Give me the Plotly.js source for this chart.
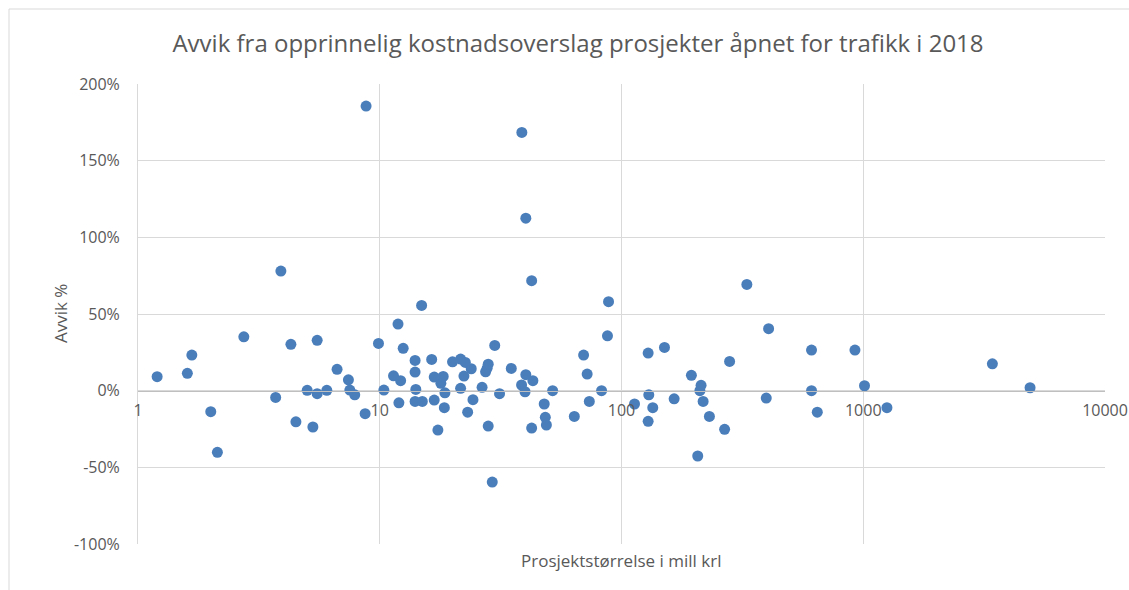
<!DOCTYPE html>
<html>
<head>
<meta charset="utf-8">
<script src="https://cdn.plot.ly/plotly-3.0.1.min.js"></script>
<style>html,body{margin:0;padding:0;background:#fff;}#chart{width:1129px;height:590px;}</style>
</head>
<body>
<div id="chart"></div>
<script>
// Project size (mill kr) and deviation (%)
const prosjektstorrelse = [
  1.20, 1.60, 1.67, 2.00, 2.13, 2.74, 3.71, 3.90, 4.29, 4.50,
  5.01, 5.29, 5.51, 5.51, 6.04, 6.66, 7.42, 7.52, 7.88, 8.70,
  8.78, 9.88, 10.4,
  11.4, 11.9, 12.0, 12.2, 12.5, 14.0, 14.0, 14.1, 14.0, 14.9,
  15.0, 16.4, 16.8, 16.8, 17.4, 17.9, 18.3, 18.5, 18.6, 20.0,
  21.6, 21.6, 22.3, 22.6, 23.1, 23.9, 24.3, 26.5, 27.4, 27.8,
  28.1, 28.1, 29.2, 29.9, 31.3, 35.0, 38.6, 38.7, 39.9, 40.2,
  40.2, 42.5, 42.5, 43.0, 47.9, 48.4, 48.9, 51.9, 63.8, 69.7,
  72.1, 73.6, 82.7, 87.5, 88.4,
  113.2, 128.9, 128.9, 129.7, 134.7, 150.6, 165.1, 194.6, 206.7, 211,
  213.4, 217.6, 231, 267, 280, 330, 397, 406, 611, 611,
  645.5, 924, 1012, 1253, 3421, 4898
];
const avvikProsent = [
  9.1, 11.3, 23.2, -13.7, -40.2, 35.1, -4.4, 78.0, 30.2, -20.3,
  0.2, -23.7, 32.8, -2.0, 0.2, 13.9, 7.1, 0.4, -2.7, -15.0,
  185.6, 30.8, 0.4,
  9.7, 43.4, -7.9, 6.5, 27.6, 19.7, 12.1, 0.8, -7.0, 55.6,
  -7.0, 20.4, 8.9, -6.1, -25.7, 4.8, 9.3, -11.1, -1.4, 18.8,
  20.6, 1.5, 9.5, 18.4, -14.0, 14.3, -5.9, 2.2, 12.3, 14.6,
  17.3, -23.1, -59.6, 29.5, -2.0, 14.5, 3.7, 168.4, -0.7, 10.4,
  112.5, 71.7, -24.4, 6.5, -8.7, -17.4, -22.4, 0.0, -16.8, 23.2,
  10.8, -7.0, 0.0, 35.8, 58.0,
  -8.7, 24.5, -20.0, -2.7, -11.1, 28.2, -5.3, 10.0, -42.6, 0.0,
  3.5, -7.0, -16.8, -25.2, 19.1, 69.3, -4.8, 40.4, 26.5, 0.0,
  -14.0, 26.5, 3.2, -11.1, 17.5, 1.9
];
const xTicks = [1, 10, 100, 1000, 10000];
const xTickText = ["1", "10", "100", "1000", "10000"];
const yTicks = [-100, -50, 0, 50, 100, 150, 200];
const yTickText = ["-100%", "-50%", "0%", "50%", "100%", "150%", "200%"];
const tittel = "Avvik fra opprinnelig kostnadsoverslag prosjekter åpnet for trafikk i 2018";
const xTittel = "Prosjektstørrelse i mill krl";
const yTittel = "Avvik %";

const W = 1129, H = 590;
const L = 138, R = 24, T = 84, B = 46;
const pw = W - L - R, ph = H - T - B;
const zeroPos = (0 - (-100)) / 300; // paper position of y = 0

const font = "'Open Sans', 'Noto Sans', sans-serif";
const grey = "#595959";

const trace = {
  type: "scatter",
  mode: "markers",
  x: prosjektstorrelse,
  y: avvikProsent,
  marker: { color: "#4A7EBB", size: 11, line: { width: 0 } },
  hoverinfo: "x+y"
};

const layout = {
  width: W, height: H,
  margin: { l: L, r: R, t: T, b: B, pad: 0 },
  paper_bgcolor: "#ffffff",
  plot_bgcolor: "#ffffff",
  showlegend: false,
  font: { family: font, color: grey, size: 16 },
  title: {
    text: tittel,
    font: { family: font, size: 24, color: grey },
    x: 578 / W, xanchor: "center",
    y: 1 - 44 / H, yanchor: "middle", xref: "container", yref: "container"
  },
  xaxis: {
    type: "log",
    range: [0, 4],
    tickmode: "array",
    tickvals: xTicks,
    ticktext: xTickText,
    anchor: "free",
    position: zeroPos,
    showline: true,
    linecolor: "#bfbfbf",
    linewidth: 1,
    showgrid: true,
    gridcolor: "#d9d9d9",
    gridwidth: 1,
    zeroline: false,
    ticks: "",
    ticklabelstandoff: 5,
    tickfont: { family: font, size: 16, color: grey }
  },
  yaxis: {
    range: [-100, 200],
    tickmode: "array",
    tickvals: yTicks,
    ticktext: yTickText,
    showline: true,
    linecolor: "#d9d9d9",
    linewidth: 1,
    showgrid: true,
    gridcolor: "#d9d9d9",
    gridwidth: 1,
    zeroline: false,
    ticks: "",
    ticklabelstandoff: 14,
    tickfont: { family: font, size: 16, color: grey }
  },
  annotations: [
    {
      text: xTittel, xref: "paper", yref: "paper",
      x: (621 - L) / pw, y: (T + ph - 560) / ph,
      xanchor: "center", yanchor: "middle", showarrow: false,
      font: { family: font, size: 17, color: grey }
    },
    {
      text: yTittel, xref: "paper", yref: "paper",
      x: (60 - L) / pw, y: (T + ph - 314) / ph,
      xanchor: "center", yanchor: "middle", showarrow: false, textangle: -90,
      font: { family: font, size: 17, color: grey }
    }
  ],
  shapes: [
    {
      type: "rect", xref: "paper", yref: "paper", layer: "below",
      x0: (9 - L) / pw, x1: (W + 20 - L) / pw,
      y0: (T + ph - (H + 20)) / ph, y1: (T + ph - 9) / ph,
      line: { color: "#d9d9d9", width: 1 }, fillcolor: "rgba(0,0,0,0)"
    }
  ]
};

Plotly.newPlot("chart", [trace], layout, { displayModeBar: false, staticPlot: true });
</script>
</body>
</html>
